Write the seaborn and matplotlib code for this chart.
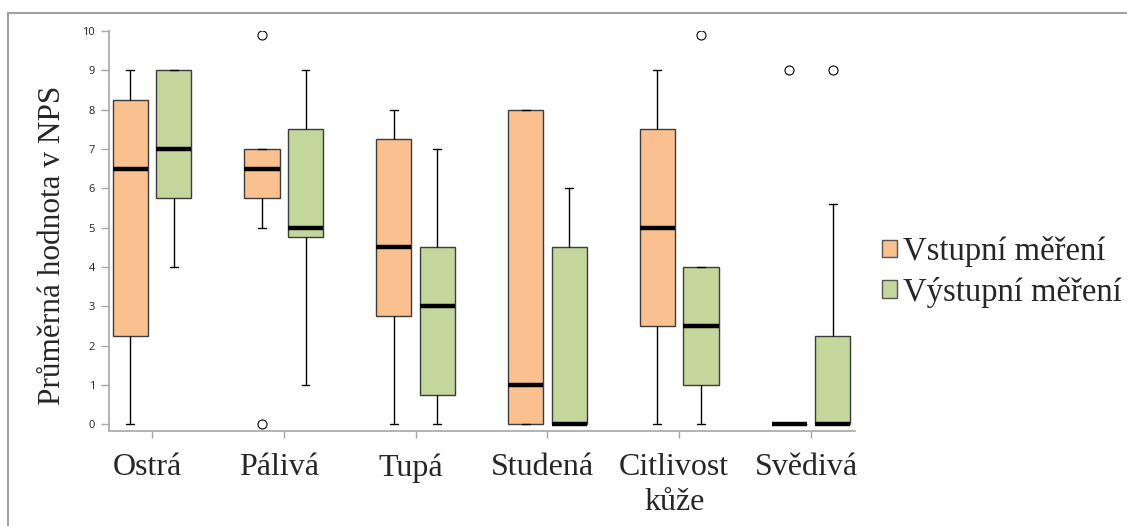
import matplotlib
matplotlib.use("Agg")
import matplotlib.pyplot as plt
import matplotlib.transforms as mtransforms
import seaborn as sns
import pandas as pd
import numpy as np
from matplotlib.patches import Patch
from matplotlib.lines import Line2D

# ---- data ----
categories = ["Ostrá", "Pálivá", "Tupá", "Studená", "Citlivost\nkůže", "Svědivá"]
groups = ["Vstupní měření", "Výstupní měření"]

ostra_vstup = [0, 2.25, 6.5, 8.25, 9]
ostra_vystup = [4, 5.75, 7, 9, 9]
paliva_vstup = [0, 5, 6.5, 6.5, 7, 7, 9.9]
paliva_vystup = [1, 4.75, 5, 7.5, 9]
tupa_vstup = [0, 2.75, 4.5, 7.25, 8]
tupa_vystup = [0, 0.75, 3, 4.5, 7]
studena_vstup = [0, 0, 1, 8, 8]
studena_vystup = [0, 0, 0, 4.5, 6]
citlivost_vstup = [0, 2.5, 5, 7.5, 9]
citlivost_vystup = [0, 1, 1, 2.5, 4, 4, 9.9]
svediva_vstup = [0, 0, 0, 0, 9]
svediva_vystup = [0, 0, 0, 0, 0, 0, 2.25, 5.6, 9]

y_ticks = [0, 1, 2, 3, 4, 5, 6, 7, 8, 9, 10]
ylabel = "Průměrná hodnota v NPS"

vstup_series = [ostra_vstup, paliva_vstup, tupa_vstup, studena_vstup, citlivost_vstup, svediva_vstup]
vystup_series = [ostra_vystup, paliva_vystup, tupa_vystup, studena_vystup, citlivost_vystup, svediva_vystup]

rows = []
for cat, vals in zip(categories, vstup_series):
    rows += [(cat, groups[0], v) for v in vals]
for cat, vals in zip(categories, vystup_series):
    rows += [(cat, groups[1], v) for v in vals]
df = pd.DataFrame(rows, columns=["kategorie", "mereni", "hodnota"])

# ---- style ----
sns.set_style("white")
plt.rcParams["font.family"] = ["Liberation Serif", "DejaVu Serif"]

orange = "#FAC090"
green = "#C3D69B"
edge = "#3c3c3c"
spine_col = "#A6A6A6"

W, H = 1127, 526
fig = plt.figure(figsize=(W / 100, H / 100), dpi=100)
ax = fig.add_axes([109 / W, (H - 431) / H, (855 - 109) / W, 400 / H])

sns.boxplot(
    data=df, x="kategorie", y="hodnota", hue="mereni",
    order=categories, hue_order=groups, palette=[orange, green], saturation=1,
    width=0.66, gap=0.19, linewidth=1.0, linecolor=edge,
    whis=1.5, fliersize=6.5, legend=False, ax=ax,
    flierprops=dict(marker="o", markerfacecolor="white", markeredgecolor="black",
                    markeredgewidth=0.8),
    medianprops=dict(color="black", linewidth=3.2),
    whiskerprops=dict(color="black", linewidth=1.0),
    capprops=dict(color="black", linewidth=1.0),
)

# narrower whisker caps, as in the reference
cap_half = 0.03
for ln in ax.lines:
    xd = np.asarray(ln.get_xdata(), dtype=float)
    yd = np.asarray(ln.get_ydata(), dtype=float)
    if len(xd) == 2 and yd[0] == yd[1] and ln.get_linewidth() < 2 and xd[0] != xd[1]:
        c = (xd[0] + xd[1]) / 2
        ln.set_xdata([c - cap_half, c + cap_half])

ax.set_xlim(-0.326, 5.334)
ax.set_ylim(-0.17, 10)
ax.set_yticks(y_ticks)
ax.set_yticklabels([str(t) for t in y_ticks], fontfamily="Open Sans", fontsize=8, color="#222222")
ax.set_xlabel("")
ax.set_ylabel(ylabel, fontsize=22.5, fontfamily="Liberation Serif")
ax.yaxis.set_label_coords((67 - 109) / 746, 0.465)

for s in ["top", "right"]:
    ax.spines[s].set_visible(False)
for s in ["left", "bottom"]:
    ax.spines[s].set_color(spine_col)
    ax.spines[s].set_linewidth(1.2)

ax.tick_params(axis="y", direction="out", length=6, width=1, color=spine_col, pad=4, left=True)
ax.tick_params(axis="x", direction="out", length=5, width=1, color=spine_col, pad=11, bottom=True,
               labelsize=23)
shift = mtransforms.ScaledTranslation(-5 / 100, 0, fig.dpi_scale_trans)
for t in ax.get_xticklabels():
    t.set_fontfamily("Liberation Serif")
    t.set_linespacing(1.25)
    t.set_transform(t.get_transform() + shift)

handles = [Patch(facecolor=orange, edgecolor="#555555", linewidth=1.0, label=groups[0]),
           Patch(facecolor=green, edgecolor="#555555", linewidth=1.0, label=groups[1])]
fig.legend(handles=handles, loc="center left", bbox_to_anchor=(882 / W, 1 - 272 / H),
           frameon=False, prop={"family": "Liberation Serif", "size": 23.5},
           handlelength=0.45, handleheight=0.45, handletextpad=0.2, labelspacing=0.3,
           borderaxespad=0, borderpad=0)

# outer frame (top and left edges visible in the reference)
fig.add_artist(Line2D([8 / W, 8 / W], [0, 1 - 13 / H], transform=fig.transFigure,
                      color="#A0A0A0", linewidth=1.5))
fig.add_artist(Line2D([8 / W, 1], [1 - 13 / H, 1 - 13 / H], transform=fig.transFigure,
                      color="#A0A0A0", linewidth=1.5))

fig.savefig("out.png", dpi=100)
